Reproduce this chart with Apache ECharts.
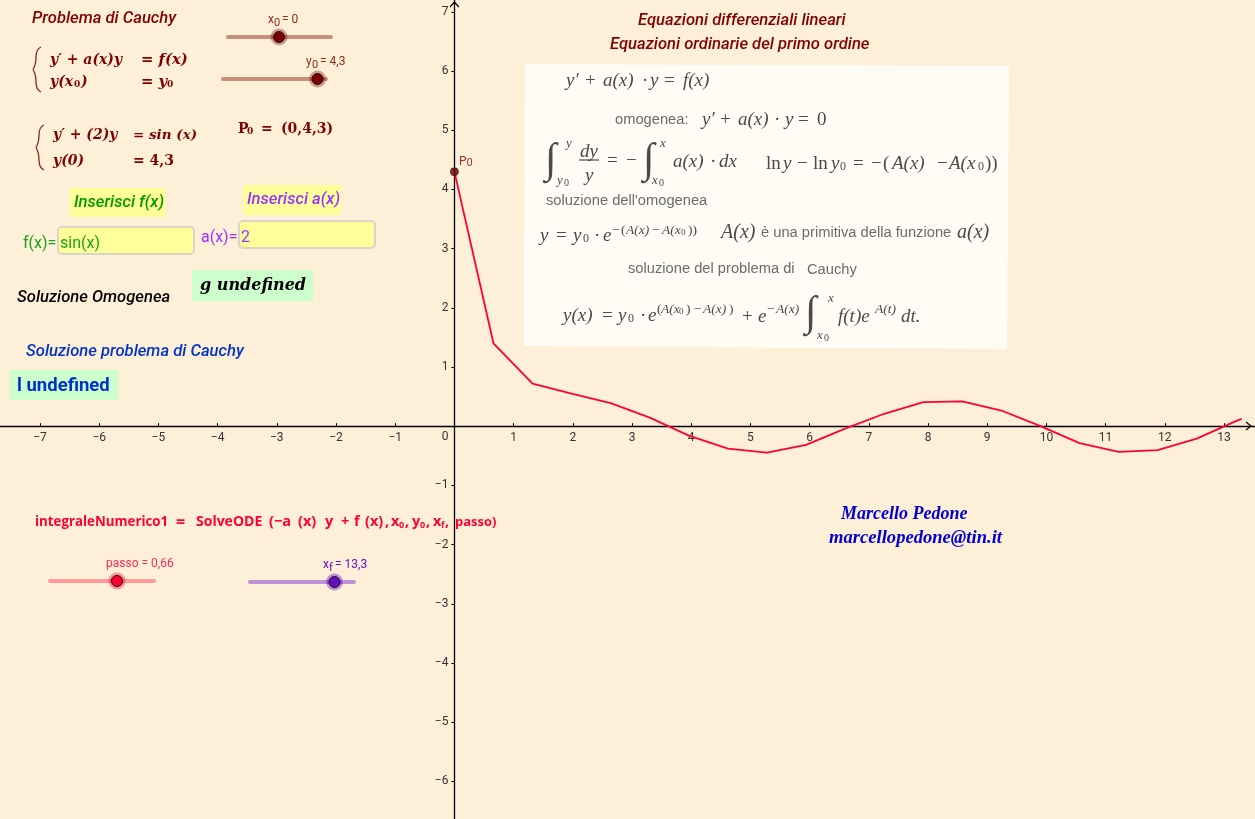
<!DOCTYPE html>
<html>
<head>
<meta charset="utf-8">
<title>Problema di Cauchy</title>
<style>
html,body{margin:0;padding:0;background:#feefd8;}
#main{width:1255px;height:819px;}
</style>
<script src="https://cdn.jsdelivr.net/npm/echarts@6/dist/echarts.min.js"></script>
</head>
<body>
<div id="main"></div>
<script>
// valori: passo 0,66 fino a xf = 13,3
var solX = [0,0.66,1.32,1.98,2.64,3.3,3.96,4.62,5.28,5.94,6.6,7.26,7.92,8.58,9.24,9.9,10.56,11.22,11.88,12.54,13.2,13.3];
var solY = [4.3,1.4,0.72,0.55,0.39,0.145,-0.16,-0.38,-0.445,-0.316,-0.04,0.21,0.405,0.42,0.265,0,-0.287,-0.434,-0.405,-0.21,0.085,0.123];
var p0 = [0,4.3];
var xRange = [-8,14];
var yRange = [-7,8];

var UNIT = 59.2, X0 = 454.4, Y0 = 426.2;
var ROBOTO = 'Roboto', SANS = '"Liberation Sans"', SERIF = '"Liberation Serif"', BOLDM = '"DejaVu Serif"', OPEN = '"Open Sans"';
var DARK = '#800000', GREY = '#4a4a4a', LGREY = '#6b6b6b', RED = '#ff0033';

var g = [];
function txt(x,y,s,size,color,family,style,weight,align){
	var dy = family===ROBOTO ? 1.5 : 1; // il middle del canvas cade un po' piu in alto
	g.push({type:'text',x:x,y:y+dy,z:20,style:{
		text:s,fill:color,
		font:(style||'normal')+' '+(weight||'normal')+' '+size+'px '+family,
		textVerticalAlign:'middle',verticalAlign:'middle',align:align||'left'
	}});
}
function rect(x,y,w,h,fill,stroke,r){
	g.push({type:'rect',z:5,shape:{x:x,y:y,width:w,height:h,r:r||0},style:{fill:fill,stroke:stroke||null,lineWidth:stroke?2:0}});
}
function brace(x,y0,y1,color){
	var m=(y0+y1)/2;
	var segs=[[x+8,y0,x+3,y0+2,x+3,y0+10],[x+3,y0+10,x+3,m-5,x,m],[x,m,x+3,m+5,x+3,y1-10],[x+3,y1-10,x+3,y1-2,x+8,y1]];
	segs.forEach(function(s){
		g.push({type:'bezierCurve',z:20,shape:{x1:s[0],y1:s[1],cpx1:s[2],cpy1:s[3],x2:s[4],y2:s[5]},style:{stroke:color,lineWidth:1.3,fill:null}});
	});
}
function slider(x0,x1,y,kx,track,halo,knob){
	g.push({type:'line',z:6,shape:{x1:x0,y1:y,x2:x1,y2:y},style:{stroke:track,lineWidth:4,lineCap:'round'}});
	g.push({type:'circle',z:7,shape:{cx:kx,cy:y,r:8.5},style:{fill:halo}});
	g.push({type:'circle',z:8,shape:{cx:kx,cy:y,r:5.5},style:{fill:knob,stroke:'#111',lineWidth:1}});
}

// --- colonna sinistra ---
var TS=16.6;
txt(32,17,'Problema di Cauchy',TS,DARK,ROBOTO,'italic','500');
brace(33,47,92,'#8a2a20');
var mb=14;
txt(50,59,"y′ + a(x)y",mb,DARK,BOLDM,'italic','bold');
txt(141,59,"= f(x)",14.8,DARK,BOLDM,'italic','bold');
txt(50,81,"y(x",mb,DARK,BOLDM,'italic','bold');
txt(74,84,"0",9,DARK,BOLDM,'normal','bold');
txt(81,81,")",mb,DARK,BOLDM,'italic','bold');
txt(141,81,"= y",14.8,DARK,BOLDM,'italic','bold');
txt(167,84,"0",9,DARK,BOLDM,'normal','bold');

brace(36,125,170,'#8a2a20');
txt(53,134,"y′ + (2)y",mb,DARK,BOLDM,'italic','bold');
txt(133,134,"= sin (x)",13.5,DARK,BOLDM,'italic','bold');
txt(53,160,"y(0)",mb,DARK,BOLDM,'italic','bold');
txt(133,160,"= 4,3",mb,DARK,BOLDM,'normal','bold');
txt(238,128,"P",14,DARK,BOLDM,'normal','bold');
txt(247,131,"0",9,DARK,BOLDM,'normal','bold');
txt(261,128,"=",14,DARK,BOLDM,'normal','bold');
txt(281,128,"(0,4,3)",14,DARK,BOLDM,'normal','bold');

slider(228,331,37,279,'#c98f7b','rgba(128,0,0,0.35)','#7a0000');
txt(268,18,'x',12,'#8f2a20',ROBOTO);
txt(274,22,'0',11,'#8f2a20',ROBOTO);
txt(282,18,'= 0',12,'#8f2a20',ROBOTO);
slider(223,326,79,317.5,'#c98f7b','rgba(128,0,0,0.35)','#7a0000');
txt(306,60,'y',12,'#8f2a20',ROBOTO);
txt(312,64,'0',11,'#8f2a20',ROBOTO);
txt(320,60,'= 4,3',12,'#8f2a20',ROBOTO);

rect(70,188,95,29,'#ffff99');
txt(74,201,'Inserisci f(x)',TS,'#009900',ROBOTO,'italic','500');
rect(243,185,98,30,'#ffff99');
txt(247,198,'Inserisci a(x)',TS,'#9933ff',ROBOTO,'italic','500');

txt(23,242,'f(x)=',16,'#1aa51a',ROBOTO);
rect(58,227,136,27,'#ffff99','#d9d6c8',4);
txt(60,242,'sin(x)',16,'#1aa51a',ROBOTO);
txt(201,236,'a(x)=',16,'#9933ff',ROBOTO);
rect(239,221,136,27,'#ffff99','#d9d6c8',4);
txt(241,236,'2',16,'#9933ff',ROBOTO);

txt(17,296,'Soluzione Omogenea',TS,'#000',ROBOTO,'italic','500');
rect(192,270,121,31,'#ccffcc');
txt(200,285,'g undefined',16,'#000',BOLDM,'italic','bold');
txt(26,350,'Soluzione problema di Cauchy',TS,'#0033cc',ROBOTO,'italic','500');
rect(10,370,108,30,'#ccffcc');
txt(17,385,'l undefined',18.5,'#0033cc',ROBOTO,'normal','bold');

function ode(x,s,size,dy){ txt(x,521+(dy||0),s,size||14.5,RED,OPEN,'normal','bold'); }
ode(35,'integraleNumerico1',13.3);ode(176,'=',16);ode(196,'SolveODE',14);
ode(269,'(−a',14.5);ode(298,'(x)');ode(325,'y');ode(341,'+');ode(354,'f');ode(365,'(x)');ode(385,',');
ode(391,'x');ode(399,'0',9,3);ode(405,',');ode(412,'y');ode(420,'0',9,3);ode(426,',');
ode(433,'x');ode(441,'f',9,3);ode(445,',');ode(455,'passo)',13);

slider(50,154,581,117,'#ff9a9a','rgba(255,0,51,0.4)','#ff0033');
txt(106,562,'passo = 0,66',12,'#ff2a55',ROBOTO);
slider(250,354,582,334.5,'#c090d8','rgba(102,0,204,0.4)','#6a0dbf');
txt(323,563,'x',12,'#6a0dcc',ROBOTO);
txt(329,567,'f',11,'#6a0dcc',ROBOTO);
txt(335,563,'= 13,3',12,'#6a0dcc',ROBOTO);

// --- titoli ---
txt(638,19,'Equazioni differenziali lineari',TS,DARK,ROBOTO,'italic','500');
txt(610,43,'Equazioni ordinarie del primo ordine',TS,DARK,ROBOTO,'italic','500');
txt(841,513,'Marcello Pedone',18,'#0000cc',SERIF,'italic','bold');
txt(829,537,'marcellopedone@tin.it',18.6,'#0000cc',SERIF,'italic','bold');

// --- riquadro formule ---
g.push({type:'polygon',z:4,shape:{points:[[525,64],[1009,66],[1007,349],[524,346]]},style:{fill:'#fffcf5'}});
var fs=19, ST=14.7;
function m(x,y,s,size){ txt(x,y,s,size||fs,GREY,SERIF,'italic'); }
function n(x,y,s,size){ txt(x,y,s,size||fs,GREY,SERIF,'normal'); }
function integ(x,y){ txt(x,y,'∫',42,GREY,SERIF,'italic'); }

m(566,80,"y′");n(585,80,'+');m(603,80,'a(x)');n(642,80,'·');m(650,80,'y');n(664,80,'=');m(683,80,'f(x)');

txt(615,119,'omogenea:',ST,LGREY,SANS);
m(702,119,"y′");n(720,119,'+');m(738,119,'a(x)');n(774,119,'·');m(785,119,'y');n(798,119,'=');n(817,119,'0');

integ(545,160);m(566,143,'y',13);m(557,180,'y',13);n(564,182,'0',10);
m(580,151,'dy');
g.push({type:'line',z:20,shape:{x1:579,y1:160,x2:599,y2:160},style:{stroke:GREY,lineWidth:1.2}});
m(585,175,'y');
n(607,160,'=');n(626,160,'−');
integ(643,160);m(660,143,'x',13);m(652,180,'x',13);n(659,182,'0',10);
m(673,161,'a(x)');n(710,161,'·');m(719,161,'dx');
n(766,163,'ln');m(783,163,'y');n(797,163,'−');n(813,163,'ln');m(831,163,'y');n(840,166,'0',12);
n(853,163,'=');n(871,163,'−');n(883,163,'(');m(892,163,'A(x)');n(937,163,'−');m(949,163,'A(x');n(978,166,'0',12);n(985,163,'))');

txt(546,200,"soluzione dell'omogenea",ST,LGREY,SANS);

m(540,235,'y');n(556,235,'=');m(573,235,'y');n(583,238,'0',12);n(594,235,'·');m(603,235,'e');
n(612,229,'−',13.5);n(621,229,'(',13.5);m(626,229,'A(x)',13.5);n(652,229,'−',13.5);m(662,229,'A(x',13.5);n(681,232,'0',9);n(688,229,'))',13.5);
m(721,232,'A(x)',20);
txt(761,232,'è una primitiva della funzione',ST,LGREY,SANS);
m(957,232,'a(x)',20);

txt(628,268,'soluzione del problema di',ST,LGREY,SANS);
txt(807,269,'Cauchy',ST,LGREY,SANS);

m(563,315,'y(x)');n(602,315,'=');m(618,315,'y');n(628,318,'0',12);n(640,315,'·');m(648,315,'e');
n(657,308,'(',13.5);m(661,308,'A(x',13.5);n(679,311,'0',9);n(686,308,')',13.5);n(694,308,'−',13.5);m(703,308,'A(x)',13.5);n(729,308,')',13.5);
n(742,316,'+');m(758,316,'e');n(767,308,'−',13.5);m(776,308,'A(x)',13.5);
integ(805,313);m(828,298,'x',13);m(817,335,'x',13);n(824,337,'0',10);
m(838,316,'f(t)e');m(875,308,'A(t)',13.5);m(901,316,'dt.');

// --- frecce degli assi ---
g.push({type:'polyline',z:12,shape:{points:[[1246,422],[1251,426],[1246,430]]},style:{stroke:'#000',lineWidth:1.2,fill:null}});
g.push({type:'polyline',z:12,shape:{points:[[450,7],[454.4,2],[458.8,7]]},style:{stroke:'#000',lineWidth:1.2,fill:null}});
txt(445,435,'0',12,'#333',ROBOTO,'normal','normal','center');

function lineData(){
	var d=[];
	for(var i=0;i<solX.length;i++){ d.push([solX[i],solY[i]]); }
	return d;
}
function tickLabel(v){
	if(v===0) return '';
	return v<0 ? '−'+Math.abs(v) : ''+v;
}

var myChart = echarts.init(document.getElementById('main'));
var option = {
	backgroundColor:'#feefd8',
	animation:false,
	// griglia oltre la finestra: l'origine cade a (X0,Y0) e min/max restano interi
	grid:{
		outerBoundsMode:'none',
		containLabel:false,
		left:X0+xRange[0]*UNIT,
		top:Y0-yRange[1]*UNIT,
		width:(xRange[1]-xRange[0])*UNIT,
		height:(yRange[1]-yRange[0])*UNIT
	},
	xAxis:{
		type:'value',min:xRange[0],max:xRange[1],interval:1,
		position:'bottom',offset:yRange[0]*UNIT,
		splitLine:{show:false},
		axisLine:{onZero:false,lineStyle:{color:'#000',width:1.3}},
		axisTick:{inside:true,length:3,lineStyle:{color:'#000'}},
		axisLabel:{color:'#333',fontFamily:ROBOTO,fontSize:12,margin:6,formatter:tickLabel,showMinLabel:false,showMaxLabel:false}
	},
	yAxis:{
		type:'value',min:yRange[0],max:yRange[1],interval:1,
		position:'left',offset:xRange[0]*UNIT,
		splitLine:{show:false},
		axisLine:{onZero:false,lineStyle:{color:'#000',width:1.3}},
		axisTick:{length:3,lineStyle:{color:'#000'}},
		axisLabel:{color:'#333',fontFamily:ROBOTO,fontSize:12,margin:6,formatter:tickLabel,showMinLabel:false,showMaxLabel:false}
	},
	series:[
		{
			type:'line',data:lineData(),smooth:false,showSymbol:false,
			lineStyle:{color:RED,width:1.8},z:3
		},
		{
			type:'scatter',data:[p0],symbolSize:8,z:4,
			itemStyle:{color:'#6b0000',borderColor:'#222',borderWidth:1},
			label:{show:true,position:'insideLeft',offset:[4,-10],formatter:'{a|P}{b|0}',
				rich:{a:{color:DARK,fontFamily:ROBOTO,fontSize:12},b:{color:DARK,fontFamily:ROBOTO,fontSize:11,padding:[4,0,0,0]}}}
		}
	],
	graphic:g
};
myChart.setOption(option,true);
</script>
</body>
</html>
